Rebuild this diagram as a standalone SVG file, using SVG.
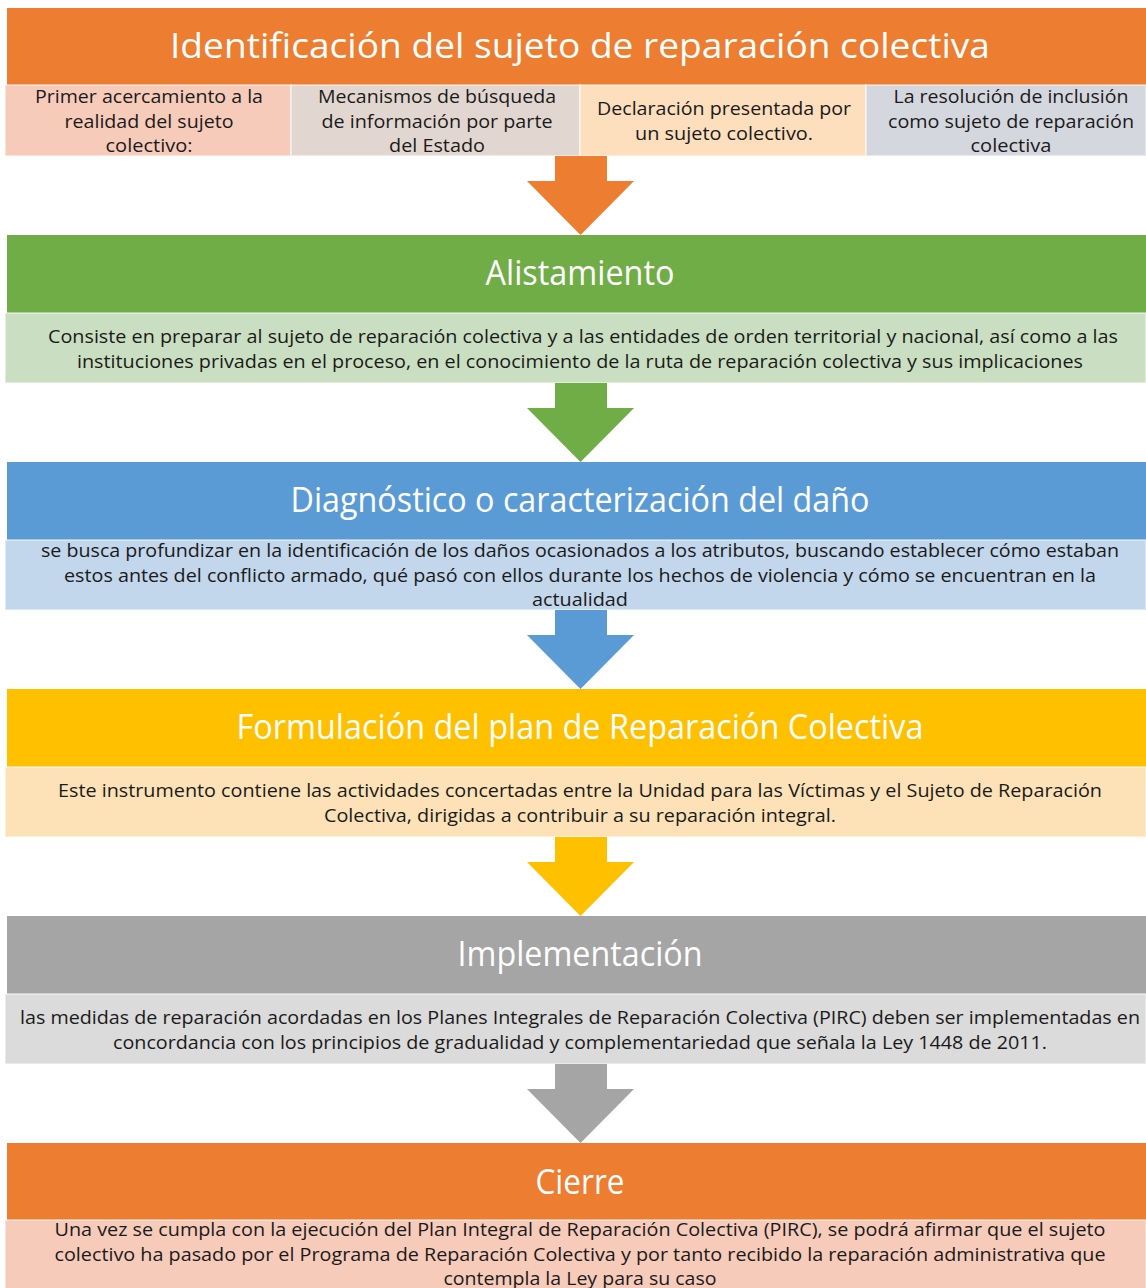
<svg xmlns="http://www.w3.org/2000/svg" width="1146" height="1288" viewBox="0 0 1146 1288">
<style>
.hd{font-family:"Open Sans","Liberation Sans",sans-serif;font-size:34px;fill:#ffffff;text-anchor:middle}
.tx{font-family:"Open Sans","Liberation Sans",sans-serif;font-size:18.5px;fill:#1a1a1a;text-anchor:middle}
.bx{stroke:#ffffff;stroke-opacity:0.45;stroke-width:2}
</style>
<rect width="1146" height="1288" fill="#ffffff"/>
<g id="n1">
<rect x="7" y="8" width="1139" height="77" fill="#ED7D31"/>
<text class="hd" x="580" y="58" textLength="820" lengthAdjust="spacingAndGlyphs">Identificación del sujeto de reparación colectiva</text>
</g>
<g id="n1a">
<rect class="bx" x="5" y="85" width="286" height="71" fill="#F7CBBA"/>
<text class="tx" x="149" y="103" textLength="228" lengthAdjust="spacingAndGlyphs">Primer acercamiento a la</text>
<text class="tx" x="149" y="128" textLength="169" lengthAdjust="spacingAndGlyphs">realidad del sujeto</text>
<text class="tx" x="149" y="152" textLength="87" lengthAdjust="spacingAndGlyphs">colectivo:</text>
</g>
<g id="n1b">
<rect class="bx" x="291" y="85" width="289" height="71" fill="#E2D7D0"/>
<text class="tx" x="437" y="103" textLength="238" lengthAdjust="spacingAndGlyphs">Mecanismos de búsqueda</text>
<text class="tx" x="437" y="128" textLength="231" lengthAdjust="spacingAndGlyphs">de información por parte</text>
<text class="tx" x="437" y="152" textLength="96" lengthAdjust="spacingAndGlyphs">del Estado</text>
</g>
<g id="n1c">
<rect class="bx" x="580" y="85" width="286" height="71" fill="#FDDEBD"/>
<text class="tx" x="724" y="115" textLength="254" lengthAdjust="spacingAndGlyphs">Declaración presentada por</text>
<text class="tx" x="724" y="140" textLength="178" lengthAdjust="spacingAndGlyphs">un sujeto colectivo.</text>
</g>
<g id="n1d">
<rect class="bx" x="866" y="85" width="280" height="71" fill="#D5D7DE"/>
<text class="tx" x="1011" y="103" textLength="235" lengthAdjust="spacingAndGlyphs">La resolución de inclusión</text>
<text class="tx" x="1011" y="128" textLength="246" lengthAdjust="spacingAndGlyphs">como sujeto de reparación</text>
<text class="tx" x="1011" y="152" textLength="81" lengthAdjust="spacingAndGlyphs">colectiva</text>
</g>
<g id="n2">
<rect x="7" y="235" width="1139" height="78" fill="#70AD47"/>
<text class="hd" x="580" y="285" textLength="189" lengthAdjust="spacingAndGlyphs">Alistamiento</text>
<rect class="bx" x="5" y="313" width="1141" height="70" fill="#CADFC1"/>
<text class="tx" x="583" y="343" textLength="1070" lengthAdjust="spacingAndGlyphs">Consiste en preparar al sujeto de reparación colectiva y a las entidades de orden territorial y nacional, así como a las</text>
<text class="tx" x="580" y="368" textLength="1006" lengthAdjust="spacingAndGlyphs">instituciones privadas en el proceso, en el conocimiento de la ruta de reparación colectiva y sus implicaciones</text>
</g>
<g id="n3">
<rect x="7" y="462" width="1139" height="78" fill="#5B9BD5"/>
<text class="hd" x="580" y="512" textLength="579" lengthAdjust="spacingAndGlyphs">Diagnóstico o caracterización del daño</text>
<rect class="bx" x="5" y="540" width="1141" height="70" fill="#C2D6EC"/>
<text class="tx" x="580" y="557" textLength="1078" lengthAdjust="spacingAndGlyphs">se busca profundizar en la identificación de los daños ocasionados a los atributos, buscando establecer cómo estaban</text>
<text class="tx" x="580" y="582" textLength="1032" lengthAdjust="spacingAndGlyphs">estos antes del conflicto armado, qué pasó con ellos durante los hechos de violencia y cómo se encuentran en la</text>
<text class="tx" x="580" y="606" textLength="96" lengthAdjust="spacingAndGlyphs">actualidad</text>
</g>
<g id="n4">
<rect x="7" y="689" width="1139" height="78" fill="#FFC000"/>
<text class="hd" x="580" y="739" textLength="687" lengthAdjust="spacingAndGlyphs">Formulación del plan de Reparación Colectiva</text>
<rect class="bx" x="5" y="767" width="1141" height="70" fill="#FEE2B7"/>
<text class="tx" x="580" y="797" textLength="1044" lengthAdjust="spacingAndGlyphs">Este instrumento contiene las actividades concertadas entre la Unidad para las Víctimas y el Sujeto de Reparación</text>
<text class="tx" x="580" y="822" textLength="512" lengthAdjust="spacingAndGlyphs">Colectiva, dirigidas a contribuir a su reparación integral.</text>
</g>
<g id="n5">
<rect x="7" y="916" width="1139" height="78" fill="#A5A5A5"/>
<text class="hd" x="580" y="966" textLength="245" lengthAdjust="spacingAndGlyphs">Implementación</text>
<rect class="bx" x="5" y="994" width="1141" height="70" fill="#DBDBDB"/>
<text class="tx" x="580" y="1024" textLength="1120" lengthAdjust="spacingAndGlyphs">las medidas de reparación acordadas en los Planes Integrales de Reparación Colectiva (PIRC) deben ser implementadas en</text>
<text class="tx" x="580" y="1049" textLength="934" lengthAdjust="spacingAndGlyphs">concordancia con los principios de gradualidad y complementariedad que señala la Ley 1448 de 2011.</text>
</g>
<g id="n6">
<rect x="7" y="1143" width="1139" height="77" fill="#ED7D31"/>
<text class="hd" x="580" y="1194" textLength="89" lengthAdjust="spacingAndGlyphs">Cierre</text>
<rect class="bx" x="5" y="1220" width="1141" height="70" fill="#F7CBBA"/>
<text class="tx" x="580" y="1236" textLength="1051" lengthAdjust="spacingAndGlyphs">Una vez se cumpla con la ejecución del Plan Integral de Reparación Colectiva (PIRC), se podrá afirmar que el sujeto</text>
<text class="tx" x="580" y="1261" textLength="1051" lengthAdjust="spacingAndGlyphs">colectivo ha pasado por el Programa de Reparación Colectiva y por tanto recibido la reparación administrativa que</text>
<text class="tx" x="580" y="1285" textLength="273" lengthAdjust="spacingAndGlyphs">contempla la Ley para su caso</text>
</g>
<g id="connectors">
<polygon fill="#ED7D31" points="555,156 607,156 607,181 634,181 580.5,235 527,181 555,181"/>
<polygon fill="#70AD47" points="555,383 607,383 607,408 634,408 580.5,462 527,408 555,408"/>
<polygon fill="#5B9BD5" points="555,610 607,610 607,635 634,635 580.5,689 527,635 555,635"/>
<polygon fill="#FFC000" points="555,837 607,837 607,862 634,862 580.5,916 527,862 555,862"/>
<polygon fill="#A5A5A5" points="555,1064 607,1064 607,1089 634,1089 580.5,1143 527,1089 555,1089"/>
</g>
</svg>
